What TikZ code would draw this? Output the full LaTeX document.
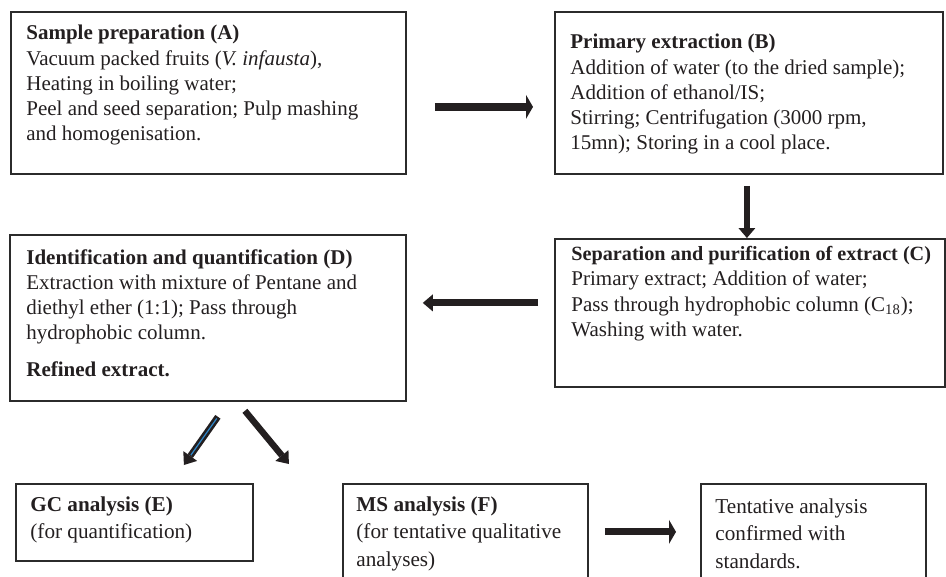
\documentclass[tikz,border=0pt]{standalone}
\usepackage{fontspec}
\setmainfont{Liberation Serif}
\usetikzlibrary{arrows.meta, positioning}
\usepackage{xcolor}
\definecolor{InkBlack}{HTML}{231F20}
\definecolor{FrameGrey}{HTML}{2B2B2B}
\definecolor{ShaftBlue}{HTML}{2E86C8}
\tikzset{
    % Boxes - empty frames, text goes on top
    stagebox/.style={
        rectangle,
        draw=FrameGrey,
        line width=0.9pt,
        inner sep=0pt,
        anchor=north west
    },
    stagetext/.style={
        anchor=north west,
        inner sep=0pt,
        align=left,
        text=InkBlack,
        font=\fontsize{10.5}{12.6}\selectfont
    },
    lowtext/.style={
        stagetext,
        font=\fontsize{10.6}{13.8}\selectfont
    },
    % Arrow styles - fat block arrows
    flatarrow/.style={
        -{Triangle[width=12pt, length=3.5pt, line width=0pt]},
        line width=4pt,
        draw=InkBlack
    },
    arrow/.style={
        -{Triangle[width=8.5pt, length=5pt, line width=0pt]},
        line width=3.5pt,
        draw=InkBlack
    },
    slantarrow/.style={
        -{Triangle[width=8.5pt, length=5.5pt, line width=0pt]},
        line width=3.2pt,
        draw=InkBlack
    },
    shaftline/.style={
        line width=0.6pt,
        draw=ShaftBlue
    }
}

\begin{document}
\begin{tikzpicture}[x=0.5pt, y=-0.5pt]
    \clip (0,0) rectangle (946,577);

    % top row
    \node[stagebox, minimum width=197.5pt, minimum height=81pt] (A) at (10,11) {};
    \node[stagetext, below right=7pt and 8pt of A.north west] (Atxt)
        {\textbf{Sample preparation (A)}\\
         Vacuum packed fruits (\textit{V. infausta}),\\
         Heating in boiling water;\\
         Peel and seed separation; Pulp mashing\\
         and homogenisation.};

    \node[stagebox, minimum width=194pt, minimum height=81pt] (B) at (554,11) {};
    \node[stagetext, below right=11.5pt and 8pt of B.north west] (Btxt)
        {\textbf{Primary extraction (B)}\\
         Addition of water (to the dried sample);\\
         Addition of ethanol/IS;\\
         Stirring; Centrifugation (3000 rpm,\\
         15mn); Storing in a cool place.};

    % middle row
    \node[stagebox, minimum width=195pt, minimum height=74pt] (C) at (554,238) {};
    \node[stagetext, below right=4pt and 8.5pt of C.north west] (Ctxt)
        {{\fontsize{10.1}{12.6}\selectfont\textbf{Separation and purification of extract (C)}}\\
         Primary extract; Addition of water;\\
         Pass through hydrophobic column (C\textsubscript{18});\\
         Washing with water.};

    \node[stagebox, minimum width=198pt, minimum height=83pt] (D) at (9,234) {};
    \node[stagetext, below right=7.5pt and 8.5pt of D.north west] (Dtxt)
        {\textbf{Identification and quantification (D)}\\
         Extraction with mixture of Pentane and\\
         diethyl ether (1:1); Pass through\\
         hydrophobic column.\\[6pt]
         \textbf{Refined extract.}};

    % bottom row
    \node[stagebox, minimum width=118.5pt, minimum height=38.5pt] (E) at (15,483) {};
    \node[lowtext, below right=6.5pt and 7.5pt of E.north west] (Etxt)
        {\textbf{GC analysis (E)}\\
         (for quantification)};

    \node[stagebox, minimum width=122.5pt, minimum height=60pt] (F) at (342,483) {};
    \node[lowtext, below right=6.5pt and 7pt of F.north west] (Ftxt)
        {\textbf{MS analysis (F)}\\
         (for tentative qualitative\\
         analyses)};

    \node[stagebox, minimum width=112.5pt, minimum height=60pt] (T) at (700,483) {};
    \node[lowtext, below right=7.5pt and 7.5pt of T.north west] (Ttxt)
        {Tentative analysis\\
         confirmed with\\
         standards.};

    % connectors
    \draw[flatarrow, shorten <=14pt, shorten >=10.5pt] ([yshift=-7pt]A.east) -- ([yshift=-7pt]B.west);
    \draw[arrow, line width=3pt, shorten <=5.5pt] ([xshift=-1pt]B.south) -- ([xshift=-1pt]B.south |- C.north);
    \draw[arrow, shorten <=8pt, shorten >=8pt] ([yshift=5pt]C.west) -- ([yshift=7.5pt]D.east);
    \draw[slantarrow] ([xshift=5pt, yshift=-7.5pt]D.south) -- ([xshift=24.75pt, yshift=9pt]E.north);
    \draw[shaftline, shorten <=1pt, shorten >=6pt] ([xshift=5pt, yshift=-7.5pt]D.south) -- ([xshift=24.75pt, yshift=9pt]E.north);
    \draw[slantarrow] ([xshift=18.5pt, yshift=-4.5pt]D.south) -- ([xshift=-88.25pt, yshift=9.5pt]F.north);
    \draw[flatarrow, line width=3.5pt, shorten <=8pt, shorten >=12pt] ([yshift=6pt]F.east) -- ([yshift=6pt]T.west);
\end{tikzpicture}
\end{document}
